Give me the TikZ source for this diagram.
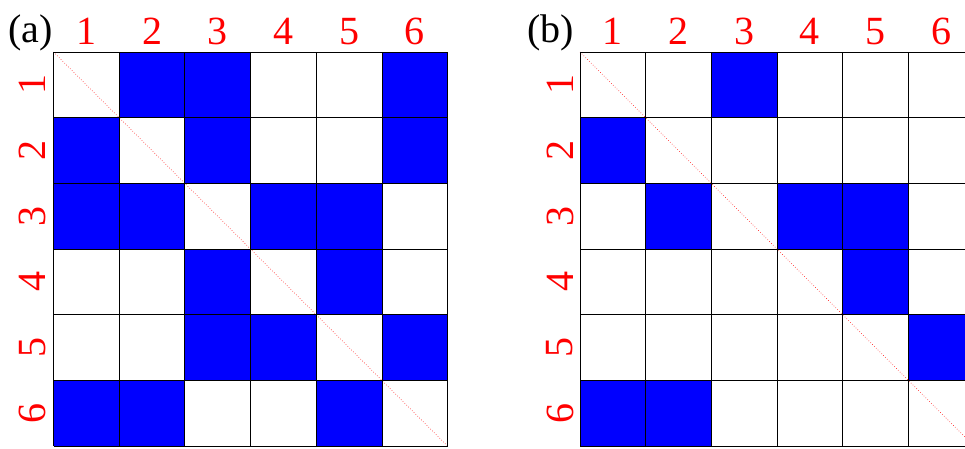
\documentclass[tikz,border=0pt]{standalone}
\usepackage{fontspec}
\setmainfont{Liberation Serif}
\begin{document}
\begin{tikzpicture}[x=1pt,y=-1pt,
  cellon/.style={fill={rgb,255:red,0;green,0;blue,255}},
  gridline/.style={draw=black,line width=1pt},
  diag/.style={draw=red,line width=0.6pt,dotted},
  collab/.style={text=red,font=\fontsize{40}{40}\selectfont,inner sep=0pt,anchor=base},
  rowlab/.style={text=red,font=\fontsize{40}{40}\selectfont,inner sep=0pt,rotate=90},
  panellab/.style={text=black,font=\fontsize{40}{40}\selectfont,inner sep=0pt,anchor=base west}]
\useasboundingbox (0,0) rectangle (965,448);
\clip (0,0) rectangle (965,448);
\def\cs{65.7}
% ---------- panel (a) ----------
\begin{scope}[shift={(53.5,52)}]
  \foreach \r/\c in {1/2,1/3,1/6, 2/1,2/3,2/6, 3/1,3/2,3/4,3/5, 4/3,4/5, 5/3,5/4,5/6, 6/1,6/2,6/5}
    \fill[cellon] ({(\c-1)*\cs},{(\r-1)*\cs}) rectangle ({\c*\cs},{\r*\cs});
  \draw[diag] (0,0) -- ({6*\cs},{6*\cs});
  \foreach \i in {0,...,6} {
    \draw[gridline] ({\i*\cs},0) -- ({\i*\cs},{6*\cs});
    \draw[gridline] (0,{\i*\cs}) -- ({6*\cs},{\i*\cs});
  }
  \foreach \i in {1,...,6} {
    \node[collab] (ac\i) at ({(\i-0.5)*\cs},-8) {\i};
    \node[rowlab] (ar\i) at (-21,{(\i-0.5)*\cs}) {\i};
  }
\end{scope}
\node[panellab] (pa) at (8,42) {(a)};
% ---------- panel (b) ----------
\begin{scope}[shift={(580,52)}]
  \foreach \r/\c in {1/3, 2/1, 3/2,3/4,3/5, 4/5, 5/6, 6/1,6/2}
    \fill[cellon] ({(\c-1)*\cs},{(\r-1)*\cs}) rectangle ({\c*\cs},{\r*\cs});
  \draw[diag] (0,0) -- ({6*\cs},{6*\cs});
  \foreach \i in {0,...,6} {
    \draw[gridline] ({\i*\cs},0) -- ({\i*\cs},{6*\cs});
    \draw[gridline] (0,{\i*\cs}) -- ({6*\cs},{\i*\cs});
  }
  \foreach \i in {1,...,6} {
    \node[collab] (bc\i) at ({(\i-0.5)*\cs},-8) {\i};
    \node[rowlab] (br\i) at (-20,{(\i-0.5)*\cs}) {\i};
  }
\end{scope}
\node[panellab] (pb) at (527,42) {(b)};
\end{tikzpicture}
\end{document}
